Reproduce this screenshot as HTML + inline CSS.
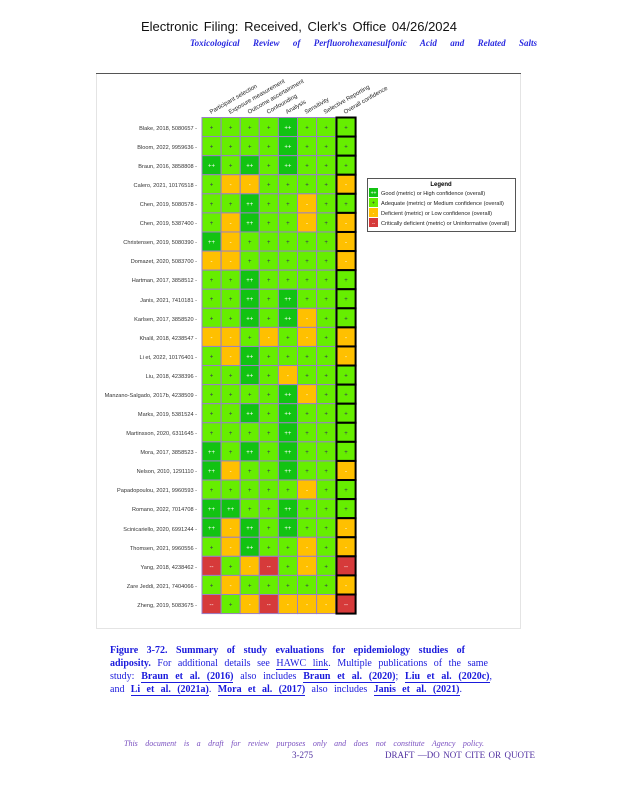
<!DOCTYPE html>
<html><head><meta charset="utf-8">
<style>
body{margin:0;background:#fff;width:618px;height:800px;position:relative;overflow:hidden;font-family:"Liberation Serif",serif}
.a{position:absolute;white-space:nowrap}
.j{position:absolute;white-space:nowrap;text-align:justify;text-align-last:justify}
.b{color:#1a1adc;font-size:10px}
.u{border-bottom:1px solid #1a1adc}
</style></head><body>
<div class="j" style="left:141px;top:19px;width:316px;font:13px 'Liberation Sans',sans-serif;color:#111">Electronic Filing: Received, Clerk's Office 04/26/2024</div>
<div class="j" style="left:190px;top:38px;width:347px;font:italic bold 9px 'Liberation Serif',serif;color:#2a2ae0">Toxicological Review of Perfluorohexanesulfonic Acid and Related Salts</div>

<svg class="a" style="left:0;top:0" width="618" height="800" font-family="Liberation Sans, sans-serif">
<rect x="96.5" y="73.5" width="424" height="555" fill="none" stroke="#e4e4e4"/>
<line x1="96" y1="73.5" x2="521" y2="73.5" stroke="#555" stroke-width="1"/>
<g font-size="6" fill="#222">
<text transform="translate(211,114) rotate(-30)">Participant selection</text>
<text transform="translate(230,114) rotate(-30)">Exposure measurement</text>
<text transform="translate(249,114) rotate(-30)">Outcome ascertainment</text>
<text transform="translate(268,114) rotate(-30)">Confounding</text>
<text transform="translate(287,114) rotate(-30)">Analysis</text>
<text transform="translate(306,114) rotate(-30)">Sensitivity</text>
<text transform="translate(325,114) rotate(-30)">Selective Reporting</text>
<text transform="translate(345,114) rotate(-30)">Overall confidence</text>
</g>
<g font-size="5.6" fill="#333" text-anchor="end">
<text x="197" y="130">Blake, 2018, 5080657 -</text>
<text x="197" y="149">Bloom, 2022, 9959636 -</text>
<text x="197" y="168">Braun, 2016, 3858808 -</text>
<text x="197" y="187">Calero, 2021, 10176518 -</text>
<text x="197" y="206">Chen, 2019, 5080578 -</text>
<text x="197" y="225">Chen, 2019, 5387400 -</text>
<text x="197" y="244">Christensen, 2019, 5080390 -</text>
<text x="197" y="263">Domazet, 2020, 5083700 -</text>
<text x="197" y="282">Hartman, 2017, 3858512 -</text>
<text x="197" y="302">Janis, 2021, 7410181 -</text>
<text x="197" y="321">Karlsen, 2017, 3858520 -</text>
<text x="197" y="340">Khalil, 2018, 4238547 -</text>
<text x="197" y="359">Li et, 2022, 10176401 -</text>
<text x="197" y="378">Liu, 2018, 4238396 -</text>
<text x="197" y="397">Manzano-Salgado, 2017b, 4238509 -</text>
<text x="197" y="416">Marks, 2019, 5381524 -</text>
<text x="197" y="435">Martinsson, 2020, 6311645 -</text>
<text x="197" y="454">Mora, 2017, 3858523 -</text>
<text x="197" y="473">Nelson, 2010, 1291110 -</text>
<text x="197" y="492">Papadopoulou, 2021, 9960593 -</text>
<text x="197" y="511">Romano, 2022, 7014708 -</text>
<text x="197" y="531">Scinicariello, 2020, 6991244 -</text>
<text x="197" y="550">Thomsen, 2021, 9960556 -</text>
<text x="197" y="569">Yang, 2018, 4238462 -</text>
<text x="197" y="588">Zare Jeddi, 2021, 7404066 -</text>
<text x="197" y="607">Zheng, 2019, 5083675 -</text>
</g>
<g id="grid"></g>
<rect x="367.5" y="178.5" width="148" height="53" fill="#fff" stroke="#555"/>
<text x="441" y="186" font-size="6" font-weight="bold" text-anchor="middle">Legend</text>
<rect x="369" y="188" width="9" height="9" fill="#12c312"/>
<rect x="369" y="198" width="9" height="9" fill="#66ee00"/>
<rect x="369" y="208" width="9" height="9" fill="#ffc000"/>
<rect x="369" y="218" width="9" height="9" fill="#d63a3a"/>
<g font-size="5" fill="#fff" text-anchor="middle"><text x="373.5" y="194.5">++</text><text x="373.5" y="204.5" fill="#333">+</text><text x="373.5" y="214.5">-</text><text x="373.5" y="224.5">--</text></g>
<g font-size="5.6" fill="#222">
<text x="381" y="195">Good (metric) or High confidence (overall)</text>
<text x="381" y="205">Adequate (metric) or Medium confidence (overall)</text>
<text x="381" y="215">Deficient (metric) or Low confidence (overall)</text>
<text x="381" y="225">Critically deficient (metric) or Uninformative (overall)</text>
</g>
</svg>

<div class="j b" style="left:110px;top:645px;width:355px;font-weight:bold">Figure 3-72. Summary of study evaluations for epidemiology studies of</div>
<div class="j b" style="left:110px;top:658px;width:378px"><b>adiposity.</b> For additional details see <span class="u">HAWC link</span>. Multiple publications of the same</div>
<div class="j b" style="left:110px;top:671px;width:382px">study: <b class="u">Braun et al. (2016)</b> also includes <b class="u">Braun et al. (2020)</b>; <b class="u">Liu et al. (2020c)</b>,</div>
<div class="j b" style="left:110px;top:684px;width:352px">and <b class="u">Li et al. (2021a)</b>. <b class="u">Mora et al. (2017)</b> also includes <b class="u">Janis et al. (2021)</b>.</div>
<div class="j" style="left:124px;top:739px;width:360px;font:italic 8px 'Liberation Serif',serif;color:#7a50c0">This document is a draft for review purposes only and does not constitute Agency policy.</div>
<div class="a" style="left:292px;top:750px;font:9px 'Liberation Serif',serif;color:#5030a0">3-275</div>
<div class="j" style="left:385px;top:750px;width:150px;font:9px 'Liberation Serif',serif;color:#5030a0">DRAFT —DO NOT CITE OR QUOTE</div>

<script>
var d=["LLLLGLLL","LLLLGLLL","GLGLGLLL","LYYLLLLY","LLGLLYLL","LYGLLYLY","GYLLLLLY","YYLLLLLY","LLGLLLLL","LLGLGLLL","LLGLGYLL","YYLYLYLY","LYGLLLLY","LLGLYLLL","LLLLGYLL","LLGLGLLL","LLLLGLLL","GLGLGLLL","GYLLGLLY","LLLLLYLL","GGLLGLLL","GYGLGLLY","LYGLLYLY","RLYRLYLR","LYLLLLLY","RLYRYYYR"];
var col={G:"#12c312",L:"#66ee00",Y:"#ffc000",R:"#d63a3a"},sym={G:"++",L:"+",Y:"-",R:"--"};
var s="";
for(var r=0;r<26;r++){var y=117.5+r*19.08;for(var c=0;c<8;c++){var k=d[r][c];var x=c<7?202+c*19.1:336.5;
s+='<rect x="'+x+'" y="'+y+'" width="19.1" height="19.08" fill="'+col[k]+'" stroke="'+(c<7?'#9a7fc8':'#000')+'" stroke-width="'+(c<7?1:2)+'"/>';
s+='<text x="'+(x+9.5)+'" y="'+(y+12)+'" font-size="6" text-anchor="middle" fill="'+(k=="L"?"#335":"#fff")+'">'+sym[k]+'</text>';}}
document.getElementById("grid").innerHTML=s;
</script>
</body></html>
